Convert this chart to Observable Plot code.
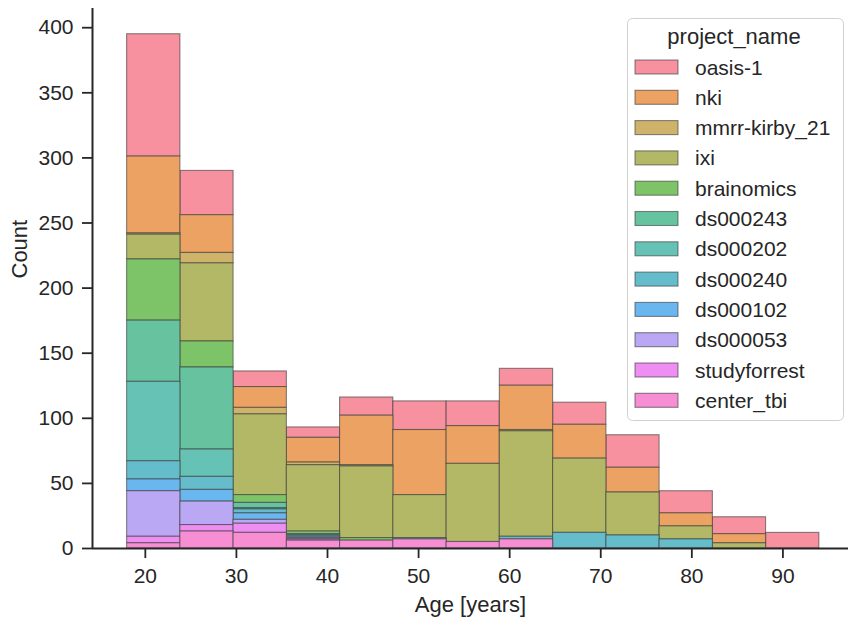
<!DOCTYPE html>
<html>
<head>
<meta charset="utf-8">
<script src="https://cdn.jsdelivr.net/npm/d3@7"></script>
<script src="https://cdn.jsdelivr.net/npm/@observablehq/plot@0.6"></script>
<style>
  body { margin: 0; background: #fff; font-family: "Liberation Sans", Arial, sans-serif; }
  #wrap { position: relative; width: 848px; height: 621px; overflow: hidden; }
  #legend { position: absolute; left: 627px; top: 18px; }
</style>
</head>
<body>
<div id="wrap"><div id="chart"></div><div id="legend"></div></div>
<script>
// Legend order (top to bottom); stacking is the reverse (center_tbi at the bottom)
const projects = ["oasis-1", "nki", "mmrr-kirby_21", "ixi", "brainomics", "ds000243",
  "ds000202", "ds000240", "ds000102", "ds000053", "studyforrest", "center_tbi"];
const colors = ["#F7909F", "#EBA263", "#D0B36B", "#B2B866", "#7DC468", "#66C29F",
  "#65C2B5", "#65BDCB", "#6AB7EF", "#BBA8F4", "#EE8DF2", "#F78ED3"];

// Histogram bin edges (years)
const binEdges = [18, 23.85, 29.69, 35.54, 41.38, 47.23, 53.08, 58.92, 64.77, 70.62, 76.46, 82.31, 88.15, 94];

// Counts per bin for each project
const oasis1       = [94, 34, 12, 8, 14, 22, 19, 13, 17, 25, 17, 13, 12];
const nki          = [59, 29, 16, 19, 38, 50, 29, 34, 26, 19, 10, 7, 0];
const mmrrKirby21  = [1, 8, 5, 2, 1, 0, 0, 1, 0, 0, 0, 0, 0];
const ixi          = [19, 60, 62, 51, 55, 33, 60, 81, 57, 33, 10, 4, 0];
const brainomics   = [47, 20, 6, 2, 2, 0, 0, 0, 0, 0, 0, 0, 0];
const ds000243     = [47, 63, 4, 1, 0, 0, 0, 0, 0, 0, 0, 0, 0];
const ds000202     = [61, 21, 1, 0, 0, 0, 0, 0, 0, 0, 0, 0, 0];
const ds000240     = [14, 10, 3, 1, 0, 1, 0, 2, 12, 10, 7, 0, 0];
const ds000102     = [9, 9, 5, 1, 0, 0, 0, 0, 0, 0, 0, 0, 0];
const ds000053     = [35, 18, 3, 1, 0, 0, 0, 0, 0, 0, 0, 0, 0];
const studyforrest = [5, 5, 7, 1, 0, 0, 0, 0, 0, 0, 0, 0, 0];
const centerTbi    = [4, 13, 12, 6, 6, 7, 5, 7, 0, 0, 0, 0, 0];

const xTicks = [20, 30, 40, 50, 60, 70, 80, 90];
const yTicks = [0, 50, 100, 150, 200, 250, 300, 350, 400];

const seriesCounts = [oasis1, nki, mmrrKirby21, ixi, brainomics, ds000243, ds000202,
  ds000240, ds000102, ds000053, studyforrest, centerTbi];

const rows = [];
projects.forEach((p, k) => {
  seriesCounts[k].forEach((c, i) => {
    if (c > 0) rows.push({project: p, x1: binEdges[i], x2: binEdges[i + 1], count: c});
  });
});
const stackOrder = projects.slice().reverse();

const ink = "#262626";
const chart = Plot.plot({
  width: 848,
  height: 621,
  marginLeft: 92,
  marginRight: 0,
  marginTop: 8,
  marginBottom: 73,
  style: {fontFamily: '"Liberation Sans", Arial, sans-serif', color: ink, background: "white"},
  x: {domain: [14.2, 97.2], label: null},
  y: {domain: [0, 414.75], label: null},
  color: {domain: projects, range: colors},
  marks: [
    Plot.rect(rows, Plot.stackY({
      x1: "x1", x2: "x2", y: "count", z: "project", fill: "project",
      order: stackOrder, inset: 0,
      stroke: "#3a3a3a", strokeOpacity: 0.6, strokeWidth: 1.1
    })),
    Plot.axisX({ticks: xTicks, tickSize: 10, tickPadding: 10, fontSize: 21, strokeWidth: 1.8, label: null}),
    Plot.axisY({ticks: yTicks, tickSize: 10, tickPadding: 9, fontSize: 21, strokeWidth: 1.8, label: null}),
    Plot.ruleY([0], {stroke: ink, strokeWidth: 2}),
    Plot.ruleX([14.2], {y1: 0, y2: 414.75, stroke: ink, strokeWidth: 2}),
    Plot.text(["Age [years]"], {frameAnchor: "bottom", lineAnchor: "middle", dy: 56, fontSize: 22, fill: ink}),
    Plot.text(["Count"], {frameAnchor: "left", lineAnchor: "middle", dx: -73, rotate: -90, fontSize: 22, fill: ink})
  ]
});
document.getElementById("chart").appendChild(chart);

// Legend
const lw = 216, lh = 402, rowH = 30.3;
const lsvg = d3.select("#legend").append("svg")
  .attr("width", lw + 2).attr("height", lh + 2)
  .style("font-family", '"Liberation Sans", Arial, sans-serif');
lsvg.append("rect").attr("x", 0.5).attr("y", 0.5).attr("width", lw).attr("height", lh)
  .attr("rx", 5).attr("fill", "rgba(255,255,255,0.8)").attr("stroke", "#d0d0d0").attr("stroke-width", 1);
lsvg.append("text").attr("x", 107).attr("y", 25.5).attr("text-anchor", "middle")
  .attr("font-size", 22).attr("fill", ink).text("project_name");
const items = lsvg.selectAll("g.item").data(projects).join("g")
  .attr("transform", (d, i) => `translate(0,${49 + i * rowH})`);
items.append("rect").attr("x", 8).attr("y", -7).attr("width", 43).attr("height", 14)
  .attr("fill", (d, i) => colors[i]).attr("stroke", "#3a3a3a").attr("stroke-opacity", 0.6).attr("stroke-width", 1.1);
items.append("text").attr("x", 68).attr("y", 7.5).attr("font-size", 21).attr("fill", ink).text(d => d);
</script>
</body>
</html>
